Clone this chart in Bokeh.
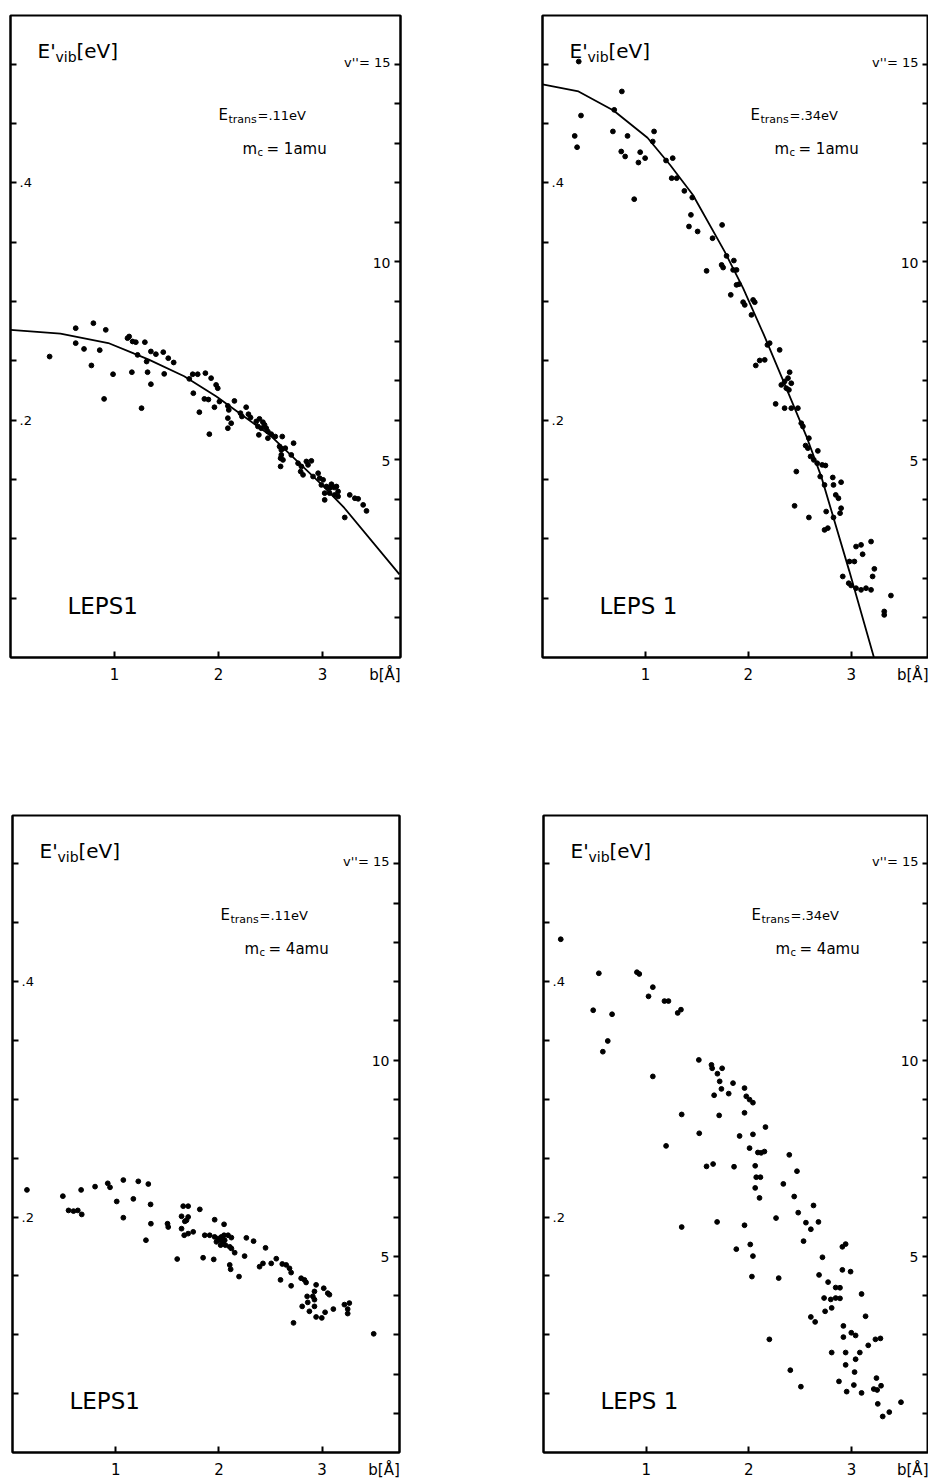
from bokeh.plotting import figure
from bokeh.models import Range1d, LinearAxis, FixedTicker, Label
from bokeh.layouts import column, row
from bokeh.embed import file_html
from bokeh.resources import INLINE

FONT = "DejaVu Sans"

# ---------------- axes / tick data ----------------
B_RANGE = (0.0, 3.75)          # impact parameter b [Angstrom]
E_RANGE = (0.0, 0.541)         # E'vib [eV]
V_RANGE = (0.0, 16.23)         # vibrational level v'' (right axis)
B_TICKS = [1, 2, 3]
B_LABELS = ["1", "2", "3"]
X_TITLE = "b[Å]"
X_TITLE_AT = 3.6
E_TICKS = [0.05, 0.1, 0.15, 0.2, 0.25, 0.3, 0.35, 0.4, 0.45, 0.5]
E_LABEL_TICKS = [0.2, 0.4]
E_LABELS = [".2", ".4"]
V_TICKS = [1, 2, 3, 4, 5, 6, 7, 8, 9, 10, 11, 12, 13, 14, 15]
V_LABEL_TICKS = [5, 10, 15]
V_LABELS = ["5", "10", "v''= 15"]
Y_TITLE = ["E'", "vib", "[eV]"]

# ---------------- panel (top-left): Etrans=.11eV, mc=1amu ----------------
TL_B = [0.627, 0.797, 0.916, 1.141, 0.376, 0.627, 0.707, 0.778, 0.858, 0.900,
        0.986, 1.125, 1.174, 1.205, 1.292, 1.167, 1.222, 1.260, 1.309, 1.318,
        1.350, 1.350, 1.398, 1.469, 1.478, 1.517, 1.569, 1.719, 1.752, 1.800,
        1.758, 1.816, 1.874, 1.929, 1.977, 1.993, 1.864, 1.903, 1.912, 1.961,
        2.009, 2.090, 2.099, 2.153, 2.090, 2.122, 2.090, 2.211, 2.225, 2.266,
        2.288, 2.308, 2.363, 2.394, 2.427, 2.443, 2.379, 2.411, 2.388, 2.459,
        2.475, 2.507, 2.546, 2.613, 2.475, 2.587, 2.604, 2.604, 2.597, 2.620,
        2.642, 2.597, 2.700, 2.722, 2.765, 2.797, 2.790, 2.813, 2.845, 2.861,
        2.893, 2.909, 2.958, 2.973, 2.989, 3.006, 3.021, 3.038, 3.069, 3.086,
        3.112, 3.069, 3.118, 3.150, 3.134, 3.150, 3.262, 3.311, 3.343, 3.423,
        3.021, 3.214, 3.391]
TL_E = [0.2775, 0.2817, 0.2761, 0.2705, 0.2536, 0.2649, 0.2600, 0.2461, 0.2590, 0.2179,
        0.2387, 0.2691, 0.2663, 0.2657, 0.2657, 0.2404, 0.2550, 0.2101, 0.2494, 0.2404,
        0.2303, 0.2579, 0.2556, 0.2573, 0.2390, 0.2522, 0.2486, 0.2348, 0.2387, 0.2387,
        0.2227, 0.2067, 0.2396, 0.2354, 0.2297, 0.2269, 0.2179, 0.2174, 0.1882, 0.2109,
        0.2157, 0.2120, 0.2086, 0.2162, 0.2017, 0.1974, 0.1932, 0.2059, 0.2031, 0.2109,
        0.2050, 0.2022, 0.1989, 0.2011, 0.1983, 0.1960, 0.1947, 0.1932, 0.1876, 0.1932,
        0.1904, 0.1882, 0.1862, 0.1862, 0.1848, 0.1778, 0.1749, 0.1707, 0.1679, 0.1665,
        0.1764, 0.1610, 0.1707, 0.1806, 0.1637, 0.1610, 0.1567, 0.1539, 0.1652, 0.1623,
        0.1657, 0.1525, 0.1553, 0.1511, 0.1454, 0.1497, 0.1385, 0.1441, 0.1427, 0.1460,
        0.1433, 0.1385, 0.1370, 0.1357, 0.1441, 0.1399, 0.1370, 0.1342, 0.1337, 0.1235,
        0.1328, 0.1180, 0.1286]
TL_CURVE_B = [0.0, 0.48, 0.94, 1.19, 1.33, 1.67, 1.98, 2.50, 3.00, 3.21, 3.74]
TL_CURVE_E = [0.276, 0.273, 0.265, 0.256, 0.251, 0.237, 0.220, 0.187, 0.145, 0.126, 0.070]

# ---------------- panel (top-right): Etrans=.34eV, mc=1amu ----------------
TR_B = [0.352, 0.374, 0.313, 0.336, 0.771, 0.697, 0.684, 0.826, 0.765, 0.803,
        0.949, 0.932, 0.997, 0.891, 1.084, 1.071, 1.200, 1.265, 1.255, 1.304,
        1.378, 1.455, 1.442, 1.423, 1.507, 1.652, 1.745, 1.594, 1.788, 1.740,
        1.755, 1.859, 1.885, 1.852, 1.829, 1.885, 1.910, 1.949, 1.965, 2.062,
        2.030, 2.046, 2.072, 2.110, 2.159, 2.185, 2.207, 2.304, 2.320, 2.352,
        2.385, 2.417, 2.401, 2.369, 2.394, 2.265, 2.352, 2.417, 2.481, 2.514,
        2.530, 2.588, 2.556, 2.578, 2.604, 2.636, 2.669, 2.717, 2.749, 2.675,
        2.466, 2.698, 2.740, 2.827, 2.820, 2.901, 2.849, 2.875, 2.901, 2.891,
        2.756, 2.827, 2.449, 2.588, 2.740, 2.772, 2.982, 3.030, 3.046, 3.095,
        3.192, 3.110, 3.224, 2.917, 2.975, 2.998, 3.046, 3.095, 3.143, 3.192,
        3.207, 3.385, 3.320, 3.320]
TR_E = [0.5022, 0.4567, 0.4395, 0.4300, 0.4770, 0.4615, 0.4433, 0.4395, 0.4264, 0.4222,
        0.4258, 0.4171, 0.4208, 0.3862, 0.4433, 0.4348, 0.4188, 0.4208, 0.4039, 0.4039,
        0.3932, 0.3876, 0.3730, 0.3632, 0.3590, 0.3533, 0.3645, 0.3258, 0.3384, 0.3308,
        0.3286, 0.3345, 0.3266, 0.3266, 0.3056, 0.3140, 0.3146, 0.2994, 0.2971, 0.2994,
        0.2887, 0.3013, 0.2461, 0.2503, 0.2508, 0.2634, 0.2649, 0.2592, 0.2297, 0.2326,
        0.2354, 0.2311, 0.2404, 0.2269, 0.2255, 0.2137, 0.2101, 0.2101, 0.2101, 0.1974,
        0.1947, 0.1848, 0.1786, 0.1764, 0.1694, 0.1665, 0.1637, 0.1623, 0.1618, 0.1741,
        0.1567, 0.1525, 0.1454, 0.1454, 0.1517, 0.1477, 0.1370, 0.1342, 0.1258, 0.1216,
        0.1230, 0.1180, 0.1278, 0.1180, 0.1075, 0.1090, 0.0809, 0.0809, 0.0935, 0.0949,
        0.0977, 0.0870, 0.0747, 0.0683, 0.0626, 0.0607, 0.0584, 0.0570, 0.0584, 0.0570,
        0.0683, 0.0522, 0.0388, 0.0359]
TR_CURVE_B = [0.0, 0.35, 0.69, 1.02, 1.24, 1.46, 1.77, 1.95, 2.15, 2.33, 2.57, 2.71, 2.98, 3.22]
TR_CURVE_E = [0.483, 0.477, 0.461, 0.438, 0.415, 0.390, 0.342, 0.311, 0.272, 0.235, 0.185, 0.152, 0.073, 0.0]

# ---------------- panel (bottom-left): Etrans=.11eV, mc=4amu ----------------
BL_B = [0.140, 0.488, 0.543, 0.591, 0.633, 0.671, 0.665, 0.800, 0.923, 0.945,
        1.074, 1.219, 1.316, 1.010, 1.171, 1.074, 1.338, 1.341, 1.293, 1.502,
        1.509, 1.596, 1.654, 1.702, 1.638, 1.702, 1.686, 1.670, 1.638, 1.664,
        1.702, 1.751, 1.815, 1.863, 1.911, 1.847, 1.959, 1.950, 1.959, 1.992,
        2.008, 2.024, 2.041, 2.056, 1.976, 2.017, 2.050, 2.050, 2.089, 2.121,
        2.063, 2.105, 2.121, 2.153, 2.105, 2.114, 2.195, 2.266, 2.336, 2.249,
        2.394, 2.427, 2.507, 2.452, 2.556, 2.614, 2.652, 2.684, 2.597, 2.700,
        2.700, 2.723, 2.797, 2.829, 2.845, 2.942, 2.926, 2.910, 2.926, 2.855,
        2.861, 2.807, 2.877, 2.942, 2.997, 3.016, 3.055, 3.071, 3.029, 3.109,
        3.216, 3.264, 3.248, 3.248, 3.500, 2.926]
BL_E = [0.2230, 0.2177, 0.2056, 0.2050, 0.2056, 0.2022, 0.2230, 0.2258, 0.2286, 0.2252,
        0.2314, 0.2303, 0.2280, 0.2132, 0.2154, 0.1994, 0.2107, 0.1943, 0.1803, 0.1943,
        0.1915, 0.1643, 0.2092, 0.2092, 0.2006, 0.2000, 0.1972, 0.1963, 0.1901, 0.1845,
        0.1859, 0.1874, 0.2065, 0.1845, 0.1845, 0.1654, 0.1977, 0.1640, 0.1831, 0.1817,
        0.1803, 0.1831, 0.1789, 0.1803, 0.1789, 0.1761, 0.1938, 0.1845, 0.1845, 0.1825,
        0.1761, 0.1747, 0.1733, 0.1697, 0.1593, 0.1556, 0.1494, 0.1823, 0.1795, 0.1668,
        0.1578, 0.1606, 0.1606, 0.1738, 0.1646, 0.1601, 0.1593, 0.1564, 0.1466, 0.1528,
        0.1416, 0.1101, 0.1480, 0.1466, 0.1444, 0.1424, 0.1368, 0.1326, 0.1298, 0.1326,
        0.1275, 0.1241, 0.1199, 0.1151, 0.1143, 0.1395, 0.1353, 0.1340, 0.1191, 0.1218,
        0.1256, 0.1269, 0.1218, 0.1180, 0.1008, 0.1241]

# ---------------- panel (bottom-right): Etrans=.34eV, mc=4amu ----------------
BR_B = [0.168, 0.539, 0.484, 0.668, 0.626, 0.578, 0.910, 0.933, 1.065, 1.023,
        1.178, 1.217, 1.307, 1.339, 1.065, 1.513, 1.636, 1.643, 1.740, 1.694,
        1.716, 1.733, 1.662, 1.804, 1.846, 1.958, 1.975, 2.007, 2.040, 1.958,
        1.711, 1.346, 2.162, 1.194, 1.517, 1.910, 2.040, 2.007, 2.088, 2.120,
        2.152, 2.394, 1.588, 1.652, 1.856, 2.062, 2.072, 2.113, 2.062, 2.104,
        2.469, 2.336, 2.442, 2.265, 2.481, 2.630, 2.556, 2.604, 2.678, 2.533,
        1.346, 1.691, 1.958, 1.878, 2.014, 2.040, 2.030, 2.291, 2.200, 2.404,
        2.507, 2.717, 2.911, 2.943, 2.911, 2.991, 2.684, 2.772, 2.846, 2.888,
        2.733, 2.798, 2.846, 2.888, 2.743, 2.807, 3.098, 3.137, 2.604, 2.646,
        2.921, 2.921, 2.998, 3.040, 3.163, 3.233, 3.282, 2.807, 2.943, 3.081,
        3.040, 2.943, 3.030, 2.878, 2.953, 3.023, 3.098, 3.243, 3.217, 3.250,
        3.288, 3.256, 3.482, 3.304, 3.368]
BR_E = [0.4359, 0.4070, 0.3756, 0.3722, 0.3495, 0.3404, 0.4079, 0.4064, 0.3952, 0.3874,
        0.3834, 0.3834, 0.3733, 0.3761, 0.3194, 0.3334, 0.3292, 0.3263, 0.3263, 0.3217,
        0.3152, 0.3088, 0.3034, 0.3048, 0.3137, 0.3095, 0.3025, 0.2997, 0.2971, 0.2885,
        0.2863, 0.2871, 0.2764, 0.2604, 0.2711, 0.2688, 0.2702, 0.2585, 0.2548, 0.2545,
        0.2556, 0.2528, 0.2430, 0.2450, 0.2427, 0.2435, 0.2338, 0.2338, 0.2247, 0.2162,
        0.2389, 0.2281, 0.2174, 0.1991, 0.2037, 0.2098, 0.1952, 0.1896, 0.1958, 0.1795,
        0.1915, 0.1958, 0.1930, 0.1727, 0.1767, 0.1668, 0.1494, 0.1481, 0.0961, 0.0699,
        0.0559, 0.1658, 0.1747, 0.1770, 0.1551, 0.1536, 0.1508, 0.1447, 0.1401, 0.1399,
        0.1312, 0.1300, 0.1312, 0.1309, 0.1199, 0.1228, 0.1346, 0.1157, 0.1151, 0.1109,
        0.1075, 0.0980, 0.1017, 0.0994, 0.0910, 0.0961, 0.0969, 0.0849, 0.0849, 0.0849,
        0.0792, 0.0744, 0.0683, 0.0604, 0.0517, 0.0573, 0.0506, 0.0632, 0.0539, 0.0531,
        0.0567, 0.0413, 0.0427, 0.0306, 0.0343]

# ---------------- per-panel annotations ----------------
E_TRANS = [".11eV", ".34eV", ".11eV", ".34eV"]
M_C = ["1amu", "1amu", "4amu", "4amu"]
MODEL = ["LEPS1", "LEPS 1", "LEPS1", "LEPS 1"]


def lab(p, text, x, y, xo, yo, size, align="left", baseline="middle", yr="default"):
    p.add_layout(Label(x=x, y=y, x_offset=xo, y_offset=yo, text=text,
                       text_font=FONT, text_font_size=f"{size}px",
                       text_align=align, text_baseline=baseline,
                       text_color="black", y_range_name=yr))


def make_panel(width, height, border, b, e, curve_b, curve_e, e_trans, m_c, model):
    bl, br, bt, bb = border
    p = figure(width=width, height=height,
               x_range=Range1d(*B_RANGE), y_range=Range1d(*E_RANGE),
               x_axis_location=None, y_axis_location=None, tools="",
               output_backend="svg", toolbar_location=None,
               min_border_left=bl, min_border_right=br,
               min_border_top=bt, min_border_bottom=bb,
               outline_line_color="black", outline_line_width=2,
               background_fill_color="white", border_fill_color="white")
    p.extra_y_ranges = {"v": Range1d(*V_RANGE)}
    p.grid.visible = False

    common = dict(major_tick_in=6, major_tick_out=0, minor_tick_line_color=None,
                  major_tick_line_width=2, major_tick_line_color="black",
                  axis_line_width=2, axis_line_color="black")
    hidden = dict(major_label_standoff=0, major_label_text_font_size="0px")
    # bottom axis: tick marks only (zero size), then a label axis right under it
    xa = LinearAxis(ticker=FixedTicker(ticks=B_TICKS),
                    major_label_overrides={t: "" for t in B_TICKS}, **hidden, **common)
    p.add_layout(xa, "below")
    xl = LinearAxis(ticker=FixedTicker(ticks=B_TICKS + [X_TITLE_AT]),
                    major_label_overrides=dict(zip(B_TICKS + [X_TITLE_AT], B_LABELS + [X_TITLE])),
                    major_label_standoff=8, major_label_text_font=FONT,
                    major_label_text_font_size="15px", major_label_text_color="black",
                    major_tick_in=0, major_tick_out=0, major_tick_line_color=None,
                    minor_tick_line_color=None, axis_line_color=None)
    p.add_layout(xl, "below")
    ya = LinearAxis(ticker=FixedTicker(ticks=E_TICKS),
                    major_label_overrides={t: "" for t in E_TICKS}, **hidden, **common)
    p.add_layout(ya, "left")
    va = LinearAxis(y_range_name="v", ticker=FixedTicker(ticks=V_TICKS),
                    major_label_overrides={t: "" for t in V_TICKS}, **hidden, **common)
    p.add_layout(va, "right")

    if curve_b is not None:
        p.line(curve_b, curve_e, line_color="black", line_width=1.8)
    p.scatter(b, e, size=4.8, color="black", line_color="black")

    x0, x1 = B_RANGE
    y0, y1 = E_RANGE
    # y title  E'_vib[eV]
    lab(p, Y_TITLE[0], x0, y1, 27, -35, 20)
    lab(p, Y_TITLE[1], x0, y1, 45, -41, 14)
    lab(p, Y_TITLE[2], x0, y1, 66, -35, 20)
    # conditions
    lab(p, "E", x0, y1, 208, -99, 15)
    lab(p, "trans", x0, y1, 218, -104, 11)
    lab(p, "=" + e_trans, x0, y1, 247, -100, 13)
    lab(p, "m", x0, y1, 232, -133, 15)
    lab(p, "c", x0, y1, 247, -137, 10)
    lab(p, "= " + m_c, x0, y1, 256, -133, 15)
    # model name
    lab(p, model, x0, y0, 57, 52, 23)
    # left tick labels (inside frame)
    for t, s in zip(E_LABEL_TICKS, E_LABELS):
        lab(p, s, x0, t, 9, 0, 13)
    # right tick labels (inside frame)
    for t, s in zip(V_LABEL_TICKS, V_LABELS):
        size = 13 if len(s) > 2 else 14
        yo = 2 if len(s) > 2 else -1
        lab(p, s, x1, t, -10, yo, size, align="right", yr="v")
    return p


p1 = make_panel(530, 758, (10, 130, 15, 101), TL_B, TL_E, TL_CURVE_B, TL_CURVE_E,
                E_TRANS[0], M_C[0], MODEL[0])
p2 = make_panel(398, 758, (12, 0, 15, 101), TR_B, TR_E, TR_CURVE_B, TR_CURVE_E,
                E_TRANS[1], M_C[1], MODEL[1])
p3 = make_panel(530, 723, (12, 131, 55, 26), BL_B, BL_E, None, None,
                E_TRANS[2], M_C[2], MODEL[2])
p4 = make_panel(398, 723, (13, 0, 57, 24), BR_B, BR_E, None, None,
                E_TRANS[3], M_C[3], MODEL[3])

layout = column(row(p1, p2), row(p3, p4))
open("out.html", "w").write(file_html(layout, INLINE, title="E'vib vs b"))
